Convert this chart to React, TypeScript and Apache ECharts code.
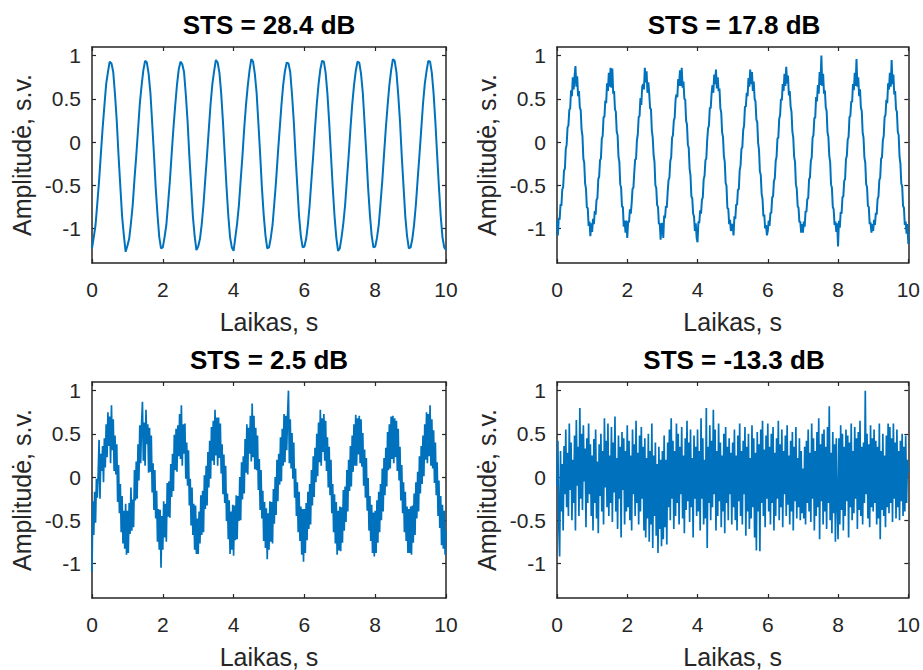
import React, { useEffect, useRef } from "react";
import * as echarts from "echarts";

const TITLES = ["STS = 28.4 dB", "STS = 17.8 dB", "STS = 2.5 dB", "STS = -13.3 dB"];
const X_LABEL = "Laikas, s";
const Y_LABEL = "Amplitudė, s.v.";
const X_MIN = 0;
const X_MAX = 10;
const X_STEP = 2;
const Y_MIN = -1.4;
const Y_MAX = 1.1;
const Y_TICKS = [-1, -0.5, 0, 0.5, 1];

// STS = 28.4 dB (samples evenly spaced over 0..10 s)
const sts28 = [
  -1.23,-1.10,-0.96,-0.71,-0.45,-0.14,0.16,0.42,0.67,0.81,0.93,0.91,0.81,0.55,0.24,-0.16,-0.51,-0.86,-1.08,-1.27,
  -1.20,-1.12,-0.94,-0.73,-0.43,-0.16,0.14,0.44,0.65,0.83,0.94,0.92,0.79,0.57,0.22,-0.14,-0.53,-0.84,-1.10,-1.23,
  -1.22,-1.10,-0.96,-0.71,-0.45,-0.14,0.16,0.42,0.66,0.84,0.93,0.90,0.81,0.55,0.24,-0.16,-0.51,-0.86,-1.09,-1.25,
  -1.21,-1.12,-0.95,-0.72,-0.43,-0.15,0.15,0.44,0.67,0.82,0.95,0.92,0.80,0.56,0.23,-0.15,-0.52,-0.85,-1.10,-1.22,
  -1.26,-1.10,-0.94,-0.73,-0.44,-0.16,0.16,0.43,0.65,0.83,0.96,0.93,0.79,0.57,0.22,-0.14,-0.53,-0.84,-1.08,-1.23,
  -1.22,-1.11,-0.96,-0.71,-0.45,-0.14,0.14,0.42,0.66,0.82,0.92,0.91,0.81,0.55,0.24,-0.16,-0.51,-0.86,-1.09,-1.22,
  -1.21,-1.12,-0.95,-0.72,-0.43,-0.15,0.16,0.44,0.67,0.84,0.94,0.93,0.80,0.56,0.23,-0.15,-0.52,-0.85,-1.10,-1.26,
  -1.23,-1.10,-0.94,-0.73,-0.44,-0.16,0.15,0.43,0.65,0.82,0.93,0.92,0.79,0.57,0.22,-0.14,-0.53,-0.84,-1.08,-1.22,
  -1.21,-1.11,-0.96,-0.71,-0.45,-0.14,0.16,0.42,0.66,0.83,0.96,0.94,0.81,0.55,0.24,-0.16,-0.51,-0.86,-1.09,-1.23,
  -1.22,-1.12,-0.95,-0.72,-0.43,-0.15,0.14,0.44,0.67,0.82,0.94,0.93,0.80,0.56,0.23,-0.15,-0.52,-0.85,-1.10,-1.22,
  -1.25,
];

// STS = 17.8 dB
const sts18 = [
  -0.91,-1.08,-0.88,-0.90,-0.72,-0.74,-0.55,-0.52,-0.33,-0.31,-0.08,-0.03,0.17,0.19,0.37,0.39,0.60,0.53,0.75,0.61,0.76,0.88,0.64,0.76,0.53,0.59,0.40,0.37,0.14,0.07,-0.19,-0.24,-0.48,-0.54,-0.76,-0.76,-0.97,-0.92,-1.09,-0.94,
  -1.04,-0.89,-0.95,-0.80,-0.84,-0.67,-0.65,-0.43,-0.40,-0.21,-0.19,0.04,0.07,0.29,0.29,0.48,0.45,0.68,0.59,0.80,0.64,0.86,0.63,0.85,0.56,0.59,0.38,0.35,0.12,0.08,-0.17,-0.23,-0.49,-0.53,-0.75,-0.75,-0.98,-0.91,-1.05,-0.91,
  -1.11,-0.92,-0.93,-0.78,-0.83,-0.71,-0.54,-0.53,-0.35,-0.20,-0.20,0.02,0.09,0.29,0.30,0.51,0.43,0.64,0.67,0.61,0.86,0.69,0.82,0.57,0.69,0.56,0.39,0.38,0.13,0.05,-0.15,-0.23,-0.50,-0.53,-0.73,-0.75,-0.95,-0.94,-1.13,-0.95,
  -0.94,-1.11,-0.85,-0.88,-0.74,-0.76,-0.58,-0.44,-0.41,-0.22,-0.18,0.05,0.08,0.25,0.28,0.49,0.55,0.52,0.73,0.65,0.83,0.65,0.86,0.63,0.70,0.50,0.49,0.25,0.20,-0.03,-0.07,-0.31,-0.39,-0.63,-0.65,-0.83,-0.86,-1.03,-0.94,-1.11,
  -1.16,-0.92,-0.94,-0.79,-0.83,-0.67,-0.64,-0.43,-0.39,-0.21,-0.19,0.02,0.16,0.19,0.40,0.39,0.56,0.66,0.57,0.78,0.67,0.84,0.62,0.75,0.59,0.62,0.39,0.34,0.11,0.06,-0.16,-0.23,-0.47,-0.51,-0.77,-0.77,-0.95,-0.90,-1.03,-0.95,
  -0.96,-1.08,-0.86,-0.89,-0.72,-0.73,-0.55,-0.55,-0.33,-0.27,-0.08,-0.06,0.14,0.19,0.41,0.41,0.57,0.53,0.74,0.64,0.84,0.67,0.81,0.59,0.70,0.50,0.47,0.26,0.23,-0.01,-0.09,-0.34,-0.38,-0.60,-0.66,-0.86,-0.84,-1.00,-0.96,-1.08,
  -1.03,-0.91,-0.97,-0.82,-0.82,-0.64,-0.63,-0.45,-0.42,-0.22,-0.17,0.04,0.05,0.27,0.31,0.50,0.48,0.67,0.59,0.79,0.65,0.87,0.68,0.77,0.54,0.59,0.41,0.35,0.12,0.05,-0.17,-0.23,-0.49,-0.54,-0.74,-0.76,-0.93,-0.92,-1.05,-0.95,
  -1.05,-0.92,-0.98,-0.80,-0.81,-0.66,-0.65,-0.43,-0.41,-0.22,-0.18,0.05,0.08,0.28,0.28,0.52,0.47,0.66,0.56,0.81,0.66,1.00,0.65,0.79,0.56,0.60,0.40,0.36,0.11,0.06,-0.16,-0.23,-0.49,-0.53,-0.75,-0.78,-0.96,-0.92,-1.04,-0.94,
  -1.21,-0.91,-0.99,-0.81,-0.83,-0.64,-0.63,-0.45,-0.43,-0.20,-0.16,0.03,0.06,0.29,0.30,0.47,0.46,0.67,0.60,0.80,0.65,0.96,0.64,0.75,0.53,0.61,0.40,0.36,0.11,0.05,-0.18,-0.24,-0.49,-0.52,-0.74,-0.75,-0.95,-0.93,-1.05,-0.95,
  -1.03,-0.90,-0.96,-0.82,-0.84,-0.66,-0.63,-0.44,-0.41,-0.19,-0.18,0.02,0.07,0.29,0.31,0.49,0.45,0.68,0.61,0.80,0.64,0.95,0.67,0.78,0.55,0.59,0.38,0.35,0.12,0.08,-0.17,-0.25,-0.48,-0.51,-0.74,-0.76,-0.96,-0.92,-1.06,-0.95,
  -1.18,
];

// STS = 2.5 dB
const sts2 = [
  -1.10,-0.28,-0.67,-0.17,-0.53,-0.02,-0.24,0.05,0.43,-0.25,0.27,0.07,0.36,-0.06,0.45,0.11,0.61,0.23,0.75,0.36,0.70,0.16,0.83,0.31,0.67,0.07,0.48,0.03,0.38,-0.29,0.14,-0.42,-0.08,-0.64,-0.22,-0.77,-0.39,-0.83,-0.31,-0.90,
  -0.39,-0.88,-0.30,-0.66,-0.12,-0.62,-0.26,-0.58,0.08,-0.27,0.18,-0.25,0.38,-0.04,0.60,0.16,0.61,0.87,0.19,0.63,0.13,0.78,0.38,0.61,0.05,0.57,0.06,0.48,-0.18,0.16,-0.38,0.08,-0.48,-0.16,-0.75,-0.37,-0.84,-0.38,-1.05,-0.45,
  -0.84,-0.28,-0.70,-0.31,-0.75,-0.07,-0.46,-0.05,-0.47,0.15,-0.23,0.27,-0.16,0.49,0.08,0.56,0.06,0.60,0.24,0.73,0.21,0.83,0.13,0.61,0.27,0.62,-0.02,0.40,-0.10,0.31,-0.33,-0.02,-0.56,-0.12,-0.67,-0.31,-0.84,-0.33,-0.89,-0.48,
  -0.89,-0.40,-0.77,-0.21,-0.67,-0.16,-0.64,0.02,-0.37,0.13,-0.33,0.29,-0.12,0.42,-0.02,0.58,0.19,0.65,0.14,0.78,0.25,0.69,0.13,0.69,0.22,0.62,0.04,0.38,-0.20,0.26,-0.30,0.13,-0.51,-0.19,-0.72,-0.27,-0.89,-0.40,-0.84,-0.32,
  -0.91,-0.33,-0.73,-0.21,-0.72,-0.22,-0.51,0.00,-0.50,0.17,-0.26,0.24,-0.19,0.44,0.05,0.61,0.03,0.57,0.27,0.71,0.18,0.85,0.23,0.71,0.09,0.57,0.08,0.48,-0.15,0.21,-0.38,0.08,-0.48,-0.16,-0.74,-0.29,-0.82,-0.36,-0.95,-0.42,
  -0.84,-0.28,-0.75,-0.29,-0.77,-0.14,-0.54,0.00,-0.44,0.20,-0.28,0.27,-0.09,0.46,-0.05,0.56,0.13,0.73,0.17,0.71,0.31,0.72,1.00,0.16,0.67,0.10,0.51,-0.02,0.40,-0.24,0.10,-0.45,-0.06,-0.64,-0.17,-0.74,-0.34,-0.90,-0.37,-0.98,
  -0.37,-0.88,-0.30,-0.73,-0.17,-0.60,-0.08,-0.55,0.08,-0.33,0.24,-0.23,0.34,-0.06,0.50,0.01,0.63,0.17,0.78,0.13,0.68,0.29,0.73,0.19,0.65,0.07,0.46,-0.12,0.35,-0.21,0.20,-0.42,-0.08,-0.64,-0.20,-0.77,-0.29,-0.90,-0.39,-0.85,
  -0.34,-0.86,-0.35,-0.76,-0.15,-0.62,-0.11,-0.52,0.08,-0.40,0.20,-0.16,0.36,-0.11,0.48,0.06,0.61,0.13,0.72,0.13,0.68,0.26,0.71,0.16,0.67,0.12,0.51,-0.10,0.32,-0.24,0.22,-0.39,-0.01,-0.62,-0.22,-0.74,-0.32,-0.88,-0.41,-0.92,
  -0.39,-0.88,-0.27,-0.76,-0.17,-0.64,-0.08,-0.50,0.10,-0.40,0.22,-0.21,0.34,-0.11,0.52,0.08,0.61,0.10,0.70,0.21,0.71,0.16,0.68,0.23,0.65,0.07,0.56,-0.04,0.35,-0.27,0.14,-0.42,-0.06,-0.64,-0.17,-0.74,-0.34,-0.88,-0.37,-0.88,
  -0.34,-0.90,-0.33,-0.76,-0.19,-0.67,-0.06,-0.48,0.06,-0.40,0.24,-0.19,0.36,-0.08,0.48,0.01,0.61,0.20,0.75,0.16,0.73,0.24,0.83,0.13,0.67,0.10,0.54,-0.07,0.40,-0.21,0.17,-0.45,-0.04,-0.59,-0.22,-0.79,-0.32,-0.83,-0.39,-0.90,
  -0.62,
];

// STS = -13.3 dB
const stsNeg13 = [
  -0.10,0.42,-0.55,-0.92,0.30,-0.40,0.15,-0.62,0.36,-0.20,0.55,-0.35,0.28,-0.45,0.62,-0.15,0.40,-0.50,0.20,-0.30,0.48,-0.62,0.66,-0.10,0.35,-0.45,0.80,-0.25,0.50,-0.38,0.60,-0.05,0.33,-0.58,0.45,-0.30,0.62,-0.20,0.38,-0.45,
  0.25,-0.62,0.44,-0.30,0.55,-0.48,0.18,-0.65,0.38,-0.22,0.50,-0.40,0.30,-0.55,0.68,-0.12,0.42,-0.35,0.62,-0.45,0.25,-0.30,0.58,-0.52,0.40,-0.18,0.70,-0.40,0.22,-0.60,0.48,-0.25,0.35,-0.70,0.52,-0.15,0.45,-0.55,0.30,-0.40,
  0.60,-0.35,0.42,-0.50,0.25,-0.62,0.55,-0.20,0.38,-0.45,0.65,-0.30,0.28,-0.55,0.48,-0.40,0.58,-0.25,0.35,-0.62,0.45,-0.70,0.22,-0.48,0.50,-0.75,0.30,-0.55,0.62,-0.82,0.25,-0.45,0.40,-0.68,0.15,-0.88,0.35,-0.60,0.20,-0.80,
  0.30,-0.72,0.48,-0.58,0.20,-0.78,0.40,-0.35,0.55,-0.50,0.68,-0.25,0.42,-0.60,0.30,-0.45,0.62,-0.30,0.50,-0.55,0.35,-0.20,0.58,-0.48,0.25,-0.65,0.45,-0.38,0.65,-0.28,0.40,-0.52,0.55,-0.35,0.22,-0.70,0.48,-0.25,0.35,-0.45,
  0.55,-0.40,0.30,-0.62,0.68,-0.25,0.45,-0.55,0.20,-0.48,0.80,-0.82,0.35,-0.30,0.60,-0.50,0.42,-0.35,0.78,-0.20,0.55,-0.62,0.30,-0.45,0.62,-0.28,0.40,-0.58,0.25,-0.40,0.50,-0.65,0.58,-0.30,0.35,-0.50,0.45,-0.20,0.28,-0.55,
  0.40,-0.35,0.55,-0.50,0.25,-0.62,0.48,-0.28,0.62,-0.45,0.30,-0.55,0.42,-0.20,0.58,-0.68,0.35,-0.40,0.50,-0.60,0.22,-0.48,0.60,-0.35,0.45,-0.70,0.28,-0.85,0.52,-0.40,0.38,-0.86,0.55,-0.30,0.65,-0.45,0.32,-0.58,0.48,-0.25,
  0.62,-0.40,0.35,-0.55,0.50,-0.30,0.58,-0.62,0.28,-0.45,0.45,-0.25,0.65,-0.50,0.38,-0.35,0.55,-0.58,0.30,-0.20,0.48,-0.45,0.60,-0.32,0.25,-0.55,0.42,-0.40,0.52,-0.62,0.35,-0.28,0.58,-0.48,0.22,-0.35,0.45,-0.50,0.30,-0.42,
  0.10,-0.48,0.35,-0.55,0.42,-0.30,0.55,-0.40,0.28,-0.52,0.62,-0.25,0.45,-0.62,0.30,-0.45,0.52,-0.35,0.68,-0.72,0.38,-0.28,0.50,-0.55,0.55,-0.40,0.35,-0.60,0.58,-0.30,0.82,-0.50,0.28,-0.65,0.52,-0.42,0.38,-0.75,0.45,-0.30,
  -0.72,0.45,-0.55,0.60,-0.38,0.50,-0.62,0.35,-0.45,0.55,-0.28,0.48,-0.70,0.40,-0.35,0.62,-0.50,0.30,-0.42,0.58,-0.25,0.45,-0.60,0.52,-0.38,0.65,-0.45,0.35,-0.55,0.40,-0.30,1.00,-0.20,0.50,-0.48,0.38,-0.58,0.60,-0.35,0.45,
  -0.40,0.55,-0.30,0.42,-0.55,0.35,-0.48,0.62,-0.72,0.30,-0.38,0.50,-0.45,0.25,-0.58,0.48,-0.35,0.62,-0.42,0.58,-0.30,0.45,-0.52,0.62,-0.25,0.40,-0.48,0.55,-0.35,0.30,-0.50,0.42,-0.28,0.50,-0.45,0.35,-0.40,0.48,-0.30,0.20,
  0.05,
];

const SIGNALS = [sts28, sts18, sts2, stsNeg13];

const FONT = "'Liberation Sans', Arial, Helvetica, sans-serif";
const AX_COLOR = "#262626";
const LINE_COLOR = "#0072BD";
const GRIDS = [
  { left: 92, top: 47 },
  { left: 557, top: 47 },
  { left: 92, top: 382 },
  { left: 557, top: 382 },
];
const GRID_W = 354;
const GRID_H = 216;

function toPoints(values: number[]) {
  const step = (X_MAX - X_MIN) / (values.length - 1);
  return values.map((v, i) => [X_MIN + i * step, v]);
}

export default function App() {
  const ref = useRef<HTMLDivElement | null>(null);

  useEffect(() => {
    document.body.style.margin = "0";
    if (!ref.current) return;
    const chart = echarts.init(ref.current, undefined, { renderer: "svg" });

    const axisLine = { show: true, onZero: false, lineStyle: { color: AX_COLOR, width: 1.5 } };
    const tick = { show: true, inside: true, length: 4, lineStyle: { color: AX_COLOR, width: 1.2 } };
    const xAxes: any[] = [];
    const yAxes: any[] = [];
    GRIDS.forEach((_, g) => {
      xAxes.push({
        type: "value",
        gridIndex: g,
        position: "bottom",
        min: X_MIN,
        max: X_MAX,
        interval: X_STEP,
        axisLine,
        axisTick: tick,
        axisLabel: { show: true, color: AX_COLOR, fontSize: 21, fontFamily: FONT, margin: 16 },
        splitLine: { show: false },
        name: X_LABEL,
        nameLocation: "middle",
        nameGap: 46,
        nameTextStyle: { color: AX_COLOR, fontSize: 25, fontFamily: FONT },
      });
      xAxes.push({
        type: "value",
        gridIndex: g,
        position: "top",
        min: X_MIN,
        max: X_MAX,
        interval: X_STEP,
        axisLine,
        axisTick: tick,
        axisLabel: { show: false },
        splitLine: { show: false },
      });
      yAxes.push({
        type: "value",
        gridIndex: g,
        position: "left",
        min: Y_MIN,
        max: Y_MAX,
        axisLine,
        axisTick: { ...tick, customValues: Y_TICKS },
        axisLabel: { show: true, customValues: Y_TICKS, color: AX_COLOR, fontSize: 21, fontFamily: FONT, margin: 11 },
        splitLine: { show: false },
        name: Y_LABEL,
        nameLocation: "middle",
        nameGap: 58,
        nameTextStyle: { color: AX_COLOR, fontSize: 25, fontFamily: FONT },
      });
      yAxes.push({
        type: "value",
        gridIndex: g,
        position: "right",
        min: Y_MIN,
        max: Y_MAX,
        axisLine,
        axisTick: { ...tick, customValues: Y_TICKS },
        axisLabel: { show: false, customValues: Y_TICKS },
        splitLine: { show: false },
      });
    });

    chart.setOption({
      animation: false,
      backgroundColor: "#ffffff",
      title: TITLES.map((text, g) => ({
        text,
        left: GRIDS[g].left + GRID_W / 2,
        top: GRIDS[g].top - 35,
        textAlign: "center",
        padding: 0,
        textStyle: { color: "#000000", fontSize: 26, fontWeight: "bold", fontFamily: FONT },
      })),
      grid: GRIDS.map((p) => ({ left: p.left, top: p.top, width: GRID_W, height: GRID_H, containLabel: false })),
      xAxis: xAxes,
      yAxis: yAxes,
      series: SIGNALS.map((values, g) => ({
        type: "line",
        xAxisIndex: 2 * g,
        yAxisIndex: 2 * g,
        data: toPoints(values),
        showSymbol: false,
        symbol: "none",
        lineStyle: { color: LINE_COLOR, width: g < 2 ? 2 : 1.7 },
        itemStyle: { color: LINE_COLOR },
        clip: true,
      })),
    });

    return () => {
      chart.dispose();
    };
  }, []);

  return <div ref={ref} style={{ width: 923, height: 670 }} />;
}
